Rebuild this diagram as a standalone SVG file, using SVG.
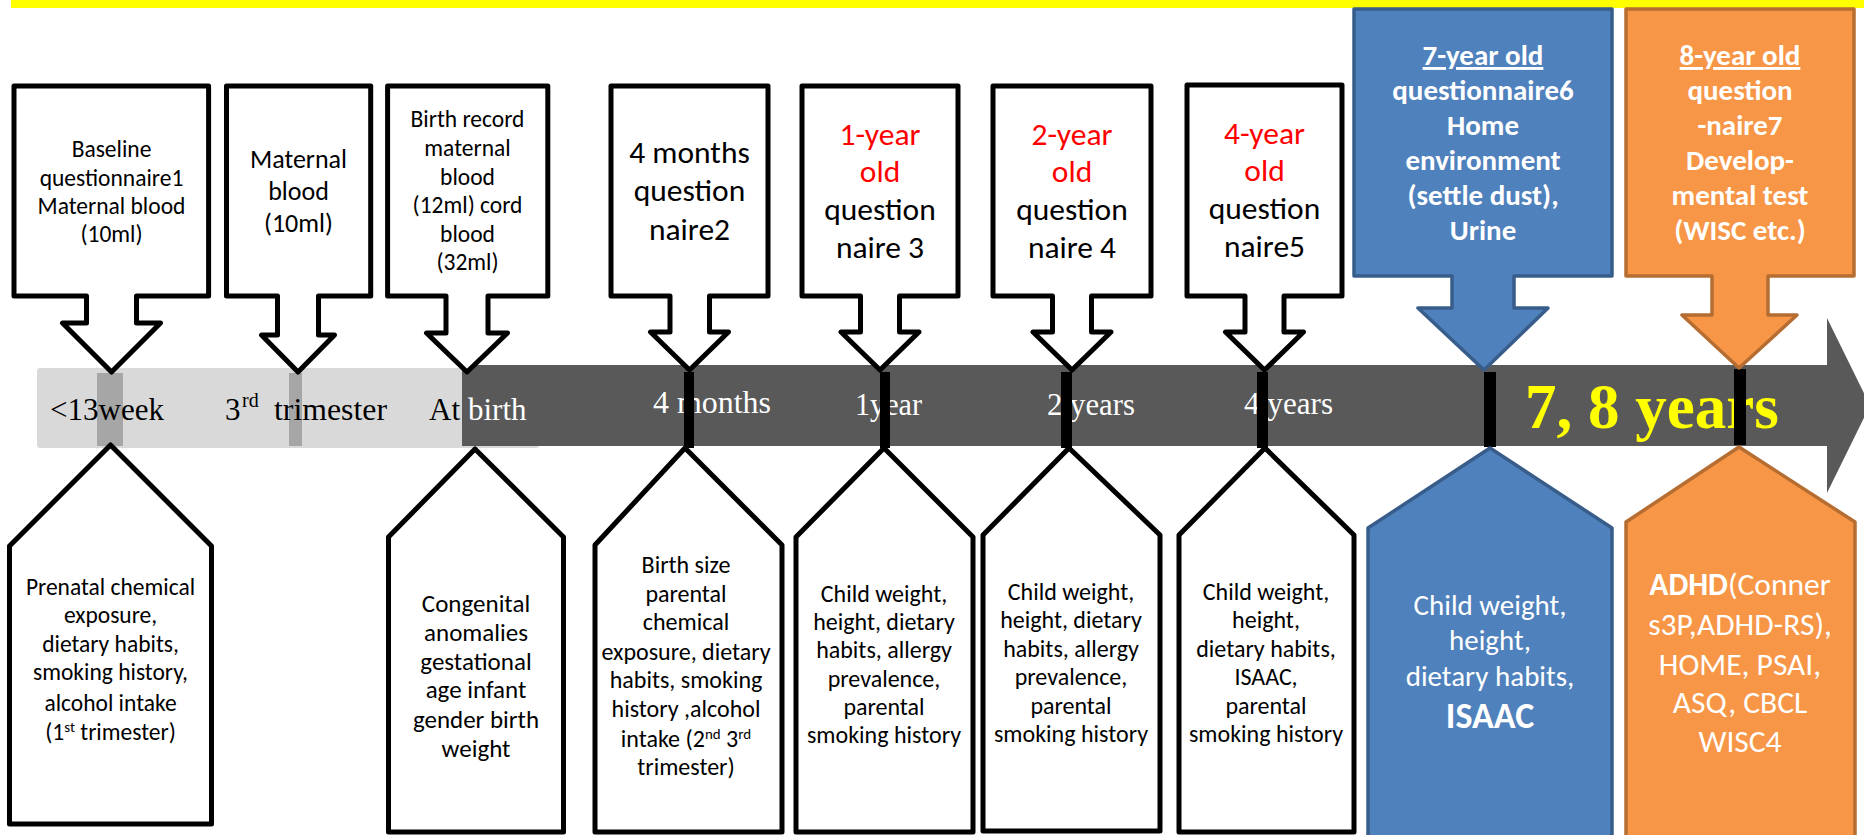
<svg xmlns="http://www.w3.org/2000/svg" width="1864" height="835" viewBox="0 0 1864 835">
<style>
.cb{fill:#fff;stroke:#000;stroke-width:5;stroke-linejoin:round}
.blue{fill:#4f81bd;stroke:#385d8a;stroke-width:3.5;stroke-linejoin:round}
.orange{fill:#f79646;stroke:#b66d31;stroke-width:3.5;stroke-linejoin:round}
.t{font-family:Carlito,Lato,"Liberation Sans",sans-serif;text-anchor:middle;fill:#000}
.w{fill:#fff}
.red{fill:#ff0000}
.b{font-weight:bold}
.s{font-family:"Liberation Serif","Times New Roman",serif;font-size:31px}
.f23{font-size:23.5px}.f24{font-size:24px}.f25{font-size:25px}.f26{font-size:26px}.f29{font-size:29px}.f31{font-size:31.5px}
</style>
<rect x="11" y="0" width="1853" height="8" fill="#ffff00"/>

<g id="timeline">
<rect x="37" y="368" width="502" height="80" rx="3" fill="#d9d9d9"/>
<rect x="97" y="373" width="26" height="73" fill="#a6a6a6"/>
<rect x="289" y="373" width="13" height="73" fill="#a6a6a6"/>
<path d="M462,365 H1827 V318 L1870,405.5 L1827,493 V446 H462 Z" fill="#595959"/>
<text class="s" x="50" y="420" textLength="114" lengthAdjust="spacingAndGlyphs">&lt;13week</text>
<text class="s" x="225" y="420">3</text>
<text class="s" x="242" y="407" style="font-size:20px">rd</text>
<text class="s" x="274" y="420" textLength="113" lengthAdjust="spacingAndGlyphs">trimester</text>
<text class="s" x="429" y="420">At</text>
<text class="s" x="468" y="420" fill="#fff">birth</text>
<text class="s" x="653" y="413" fill="#fff" textLength="118" lengthAdjust="spacingAndGlyphs">4 months</text>
<text class="s" x="855" y="415" fill="#fff" textLength="67" lengthAdjust="spacingAndGlyphs">1year</text>
<text class="s" x="1047" y="415" fill="#fff" textLength="88" lengthAdjust="spacingAndGlyphs">2 years</text>
<text class="s" x="1244" y="414" fill="#fff" textLength="89" lengthAdjust="spacingAndGlyphs">4 years</text>
<text class="s" x="1525" y="428" fill="#ffff00" font-weight="bold" style="font-size:63px">7, 8 years</text>
<rect x="684" y="372" width="10" height="76" fill="#000"/>
<rect x="880" y="372" width="10" height="76" fill="#000"/>
<rect x="1061" y="372" width="11" height="76" fill="#000"/>
<rect x="1257" y="372" width="11" height="76" fill="#000"/>
<rect x="1484" y="372" width="12" height="75" fill="#000"/>
<rect x="1734" y="369" width="12" height="76" fill="#000"/>
</g>

<g id="top1">
<path class="cb" d="M14,86 H208.6 V296 H136.5 V323 H160.5 L111.5,372 L62.5,323 H86.5 V296 H14 Z"/>
<text class="t f23"><tspan x="111.5" y="157">Baseline</tspan><tspan x="111.5" y="185.5">questionnaire1</tspan><tspan x="111.5" y="213.5">Maternal blood</tspan><tspan x="111.5" y="242">(10ml)</tspan></text>
</g>
<g id="top2">
<path class="cb" d="M226.5,86 H370.7 V296 H318.5 V335 H334.5 L298,372 L261.5,335 H277.5 V296 H226.5 Z"/>
<text class="t f26"><tspan x="298.5" y="168">Maternal</tspan><tspan x="298.5" y="200">blood</tspan><tspan x="298.5" y="232">(10ml)</tspan></text>
</g>
<g id="top3">
<path class="cb" d="M387.6,86 H547.8 V296 H488 V333 H507.5 L467,372 L426.5,333 H446 V296 H387.6 Z"/>
<text class="t f23"><tspan x="467.5" y="127">Birth record</tspan><tspan x="467.5" y="156">maternal</tspan><tspan x="467.5" y="184.5">blood</tspan><tspan x="467.5" y="213">(12ml) cord</tspan><tspan x="467.5" y="242">blood</tspan><tspan x="467.5" y="270">(32ml)</tspan></text>
</g>
<g id="top4">
<path class="cb" d="M611,86 H768 V296 H709.5 V332 H728.5 L689.5,370 L650.5,332 H670 V296 H611 Z"/>
<text class="t f31"><tspan x="689.5" y="163">4 months</tspan><tspan x="689.5" y="201">question</tspan><tspan x="689.5" y="240">naire2</tspan></text>
</g>
<g id="top5">
<path class="cb" d="M802,86 H958 V296 H899.5 V332 H919 L880,370 L841,332 H860.5 V296 H802 Z"/>
<text class="t f31"><tspan class="red" x="880" y="145">1-year</tspan><tspan class="red" x="880" y="182">old</tspan><tspan x="880" y="220">question</tspan><tspan x="880" y="258">naire 3</tspan></text>
</g>
<g id="top6">
<path class="cb" d="M993,86 H1151 V296 H1091.5 V332 H1111 L1072,370 L1033,332 H1052.5 V296 H993 Z"/>
<text class="t f31"><tspan class="red" x="1072" y="145">2-year</tspan><tspan class="red" x="1072" y="182">old</tspan><tspan x="1072" y="220">question</tspan><tspan x="1072" y="258">naire 4</tspan></text>
</g>
<g id="top7">
<path class="cb" d="M1187,85 H1342 V296 H1284 V332 H1303.5 L1264.5,370 L1225.5,332 H1245 V296 H1187 Z"/>
<text class="t f31"><tspan class="red" x="1264.5" y="144">4-year</tspan><tspan class="red" x="1264.5" y="181">old</tspan><tspan x="1264.5" y="219">question</tspan><tspan x="1264.5" y="257">naire5</tspan></text>
</g>
<g id="top8">
<path class="blue" d="M1354,9 H1612 V276 H1514 V308 H1548 L1484,370 L1418,308 H1452 V276 H1354 Z"/>
<text class="t w b f29"><tspan x="1483" y="65" text-decoration="underline">7-year old</tspan><tspan x="1483" y="100">questionnaire6</tspan><tspan x="1483" y="135">Home</tspan><tspan x="1483" y="170">environment</tspan><tspan x="1483" y="205">(settle dust),</tspan><tspan x="1483" y="240">Urine</tspan></text>
</g>
<g id="top9">
<path class="orange" d="M1626,9 H1854 V276 H1768 V315 H1797 L1739,368 L1682,315 H1712 V276 H1626 Z"/>
<text class="t w b f29"><tspan x="1740" y="65" text-decoration="underline">8-year old</tspan><tspan x="1740" y="100">question</tspan><tspan x="1740" y="135">-naire7</tspan><tspan x="1740" y="170">Develop-</tspan><tspan x="1740" y="205">mental test</tspan><tspan x="1740" y="240">(WISC etc.)</tspan></text>
</g>

<g id="bottom1">
<path class="cb" d="M110.5,445 L211.5,546 V824 H9.5 V546 Z"/>
<text class="t f23"><tspan x="110.5" y="595">Prenatal chemical</tspan><tspan x="110.5" y="623">exposure,</tspan><tspan x="110.5" y="652">dietary habits,</tspan><tspan x="110.5" y="680">smoking history,</tspan><tspan x="110.5" y="711">alcohol intake</tspan><tspan x="110.5" y="740">(1<tspan dy="-8" style="font-size:15px">st</tspan><tspan dy="8"> trimester)</tspan></tspan></text>
</g>
<g id="bottom2">
<path class="cb" d="M475,449 L563.5,537 V832 H388.5 V537 Z"/>
<text class="t f25"><tspan x="476" y="612">Congenital</tspan><tspan x="476" y="641">anomalies</tspan><tspan x="476" y="670">gestational</tspan><tspan x="476" y="698">age infant</tspan><tspan x="476" y="728">gender birth</tspan><tspan x="476" y="757">weight</tspan></text>
</g>
<g id="bottom3">
<path class="cb" d="M685,448 L782,545 V832 H595 V545 Z"/>
<text class="t f24"><tspan x="686" y="573">Birth size</tspan><tspan x="686" y="602">parental</tspan><tspan x="686" y="630">chemical</tspan><tspan x="686" y="660">exposure, dietary</tspan><tspan x="686" y="688">habits, smoking</tspan><tspan x="686" y="717">history ,alcohol</tspan><tspan x="686" y="747">intake (2<tspan dy="-8" style="font-size:15px">nd</tspan><tspan dy="8"> 3</tspan><tspan dy="-8" style="font-size:15px">rd</tspan></tspan><tspan x="686" y="775">trimester)</tspan></text>
</g>
<g id="bottom4">
<path class="cb" d="M884,448 L973,537 V832 H796 V537 Z"/>
<text class="t f24"><tspan x="884" y="602">Child weight,</tspan><tspan x="884" y="630">height, dietary</tspan><tspan x="884" y="658">habits, allergy</tspan><tspan x="884" y="687">prevalence,</tspan><tspan x="884" y="715">parental</tspan><tspan x="884" y="743">smoking history</tspan></text>
</g>
<g id="bottom5">
<path class="cb" d="M1069,448 L1160,535 V831 H983 V535 Z"/>
<text class="t f24"><tspan x="1071" y="600">Child weight,</tspan><tspan x="1071" y="628">height, dietary</tspan><tspan x="1071" y="657">habits, allergy</tspan><tspan x="1071" y="685">prevalence,</tspan><tspan x="1071" y="714">parental</tspan><tspan x="1071" y="742">smoking history</tspan></text>
</g>
<g id="bottom6">
<path class="cb" d="M1265,448 L1354,535 V832 H1179 V535 Z"/>
<text class="t f24"><tspan x="1266" y="600">Child weight,</tspan><tspan x="1266" y="628">height,</tspan><tspan x="1266" y="657">dietary habits,</tspan><tspan x="1266" y="685">ISAAC,</tspan><tspan x="1266" y="714">parental</tspan><tspan x="1266" y="742">smoking history</tspan></text>
</g>
<g id="bottom7">
<path class="blue" d="M1490,448 L1612,528 V845 H1368 V528 Z"/>
<text class="t w f29"><tspan x="1490" y="615">Child weight,</tspan><tspan x="1490" y="650">height,</tspan><tspan x="1490" y="686">dietary habits,</tspan><tspan x="1490" y="728" class="b" style="font-size:36px">ISAAC</tspan></text>
</g>
<g id="bottom8">
<path class="orange" d="M1739,447 L1855,522 V845 H1626 V522 Z"/>
<text class="t w f31"><tspan x="1740" y="595"><tspan class="b">ADHD</tspan>(Conner</tspan><tspan x="1740" y="635">s3P,ADHD-RS),</tspan><tspan x="1740" y="675">HOME, PSAI,</tspan><tspan x="1740" y="713">ASQ, CBCL</tspan><tspan x="1740" y="752">WISC4</tspan></text>
</g>
</svg>
